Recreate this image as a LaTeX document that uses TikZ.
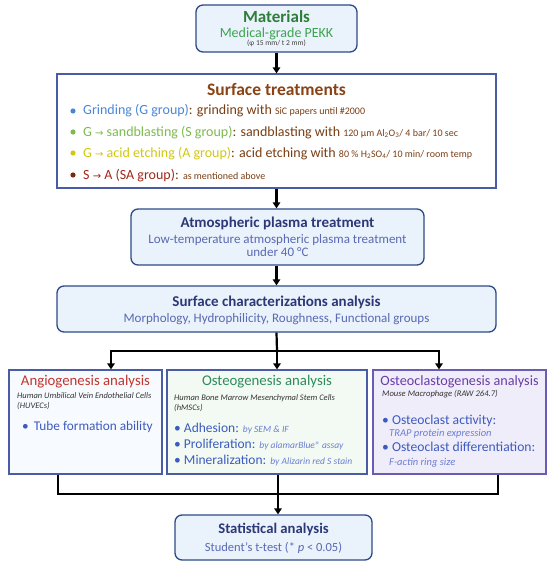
\documentclass[tikz,border=0pt]{standalone}
\usepackage{fontspec}
\setmainfont{Carlito}
\newfontfamily\symfont{DejaVu Sans}
\usepackage{xcolor}
\usepackage{tikz}
\usetikzlibrary{arrows.meta}

\definecolor{BoxBlue}{HTML}{2E4A86}
\definecolor{BoxFill}{HTML}{EAF2FB}
\definecolor{LineBlue}{HTML}{4B5CA6}
\definecolor{MatGreen}{HTML}{2F7D3B}
\definecolor{MatGreenL}{HTML}{3BA54F}
\definecolor{TextBrown}{HTML}{7A3E14}
\definecolor{TitleBrown}{HTML}{8A4315}
\definecolor{GrindBlue}{HTML}{4A86D8}
\definecolor{SandGreen}{HTML}{7DBB4E}
\definecolor{AcidYellow}{HTML}{D2C80E}
\definecolor{SARed}{HTML}{A0281C}
\definecolor{SADot}{HTML}{7A2A10}
\definecolor{NavyTitle}{HTML}{2C3878}
\definecolor{SubBlue}{HTML}{5A69B3}
\definecolor{AngioRed}{HTML}{C0362C}
\definecolor{AngioFill}{HTML}{F7FAFF}
\definecolor{TubeBlue}{HTML}{3D5BBE}
\definecolor{OsteoGreen}{HTML}{2E8C5A}
\definecolor{OsteoFill}{HTML}{F2FAF3}
\definecolor{ItalBlue}{HTML}{6B7ED0}
\definecolor{ClastPurple}{HTML}{6A3CA8}
\definecolor{ClastFill}{HTML}{F0EDFB}
\definecolor{ClastLine}{HTML}{6C5BB5}

\newcommand{\fsz}[1]{\fontsize{#1}{#1}\selectfont}
\newcommand{\toarrow}{{\symfont\fontsize{10}{10}\selectfont →}}

\begin{document}
\begin{tikzpicture}[x = 1pt, y = -1pt,
    stagebox/.style = {draw = BoxBlue, line width = 1.3pt, rounded corners = 7pt, fill = BoxFill},
    squarebox/.style = {draw = LineBlue, line width = 1.3pt},
    flow/.style = {line width = 2.2pt, -{Triangle[length = 6pt, width = 7.5pt]}},
    link/.style = {line width = 2.2pt},
    txt/.style = {inner sep = 0pt, anchor = base west},
    ctxt/.style = {inner sep = 0pt, anchor = base}]
    \useasboundingbox (0, 0) rectangle (550, 569);
    \fill [white] (0, 0) rectangle (550, 569);

    % boxes
    \node [stagebox, minimum width = 161pt, minimum height = 47pt] (mat) at (276.5, 28.5) {};
    \node [squarebox, fill = white, minimum width = 439pt, minimum height = 114pt] (surf) at (276.5, 131) {};
    \node [stagebox, minimum width = 293pt, minimum height = 56pt] (atm) at (277.5, 237) {};
    \node [stagebox, minimum width = 439pt, minimum height = 46pt] (char) at (276.5, 309) {};
    \node [squarebox, fill = AngioFill, minimum width = 153pt, minimum height = 104pt] (angio) at (85.5, 422) {};
    \node [squarebox, fill = OsteoFill, minimum width = 200pt, minimum height = 104pt] (osteo) at (267, 422) {};
    \node [squarebox, draw = ClastLine, fill = ClastFill, minimum width = 173pt, minimum height = 104pt] (clast) at (459.5, 422) {};
    \node [stagebox, minimum width = 197pt, minimum height = 45pt] (stat) at (273.5, 537.5) {};

    % materials
    \node [ctxt, MatGreen] (matT) at (276.5, 23) {\fsz{17}\bfseries Materials};
    \node [ctxt, MatGreenL] (matS) at (276.5, 37.5) {\fsz{14}Medical-grade PEKK};
    \node [ctxt, black!75] (matD) at (276.5, 46) {\fsz{7.5}(φ 15 mm/ t 2 mm)};

    % surface treatments
    \node [ctxt, TitleBrown] (surfT) at (276.5, 96) {\fsz{17.5}\bfseries Surface treatments};
    \fill [GrindBlue] (73, 111) circle (2.6);
    \fill [SandGreen] (73, 132) circle (2.6);
    \fill [AcidYellow] (73, 153) circle (2.6);
    \fill [SADot] (73, 175) circle (2.6);
    \node [txt] (grind) at (83, 115) {\fsz{14}\color{GrindBlue}Grinding (G group)\color{TextBrown}: grinding with \fsz{10}SiC papers until \#2000};
    \node [txt] (sand) at (83, 136.5) {\fsz{14}\color{SandGreen}G \toarrow{} sandblasting (S group)\color{TextBrown}: sandblasting with \fsz{10}120 μm Al\textsubscript{2}O\textsubscript{3}/ 4 bar/ 10 sec};
    \node [txt] (acid) at (83, 157.5) {\fsz{14}\color{AcidYellow}G \toarrow{} acid etching (A group)\color{TextBrown}: acid etching with \fsz{10}80 \% H\textsubscript{2}SO\textsubscript{4}/ 10 min/ room temp};
    \node [txt] (sa) at (83, 180) {\fsz{14}\color{SARed}S \toarrow{} A (SA group)\color{TextBrown}: \fsz{10}as mentioned above};

    % plasma
    \node [ctxt, NavyTitle] (atmT) at (277.5, 227) {\fsz{15}\bfseries Atmospheric plasma treatment};
    \node [ctxt, SubBlue] (atmS1) at (277.5, 243) {\fsz{13}Low-temperature atmospheric plasma treatment};
    \node [ctxt, SubBlue] (atmS2) at (277.5, 256) {\fsz{13}under 40 °C};

    % characterization
    \node [ctxt, NavyTitle] (charT) at (276.5, 306.5) {\fsz{15}\bfseries Surface characterizations analysis};
    \node [ctxt, SubBlue] (charS) at (276.5, 322.5) {\fsz{13}Morphology, Hydrophilicity, Roughness, Functional groups};

    % angiogenesis
    \node [ctxt, AngioRed] (angT) at (85.5, 385) {\fsz{14.8}Angiogenesis analysis};
    \node [txt, black!80] (angC1) at (17, 398) {\fsz{8.5}\itshape Human Umbilical Vein Endothelial Cells};
    \node [txt, black!80] (angC2) at (17, 408) {\fsz{8.5}\itshape (HUVECs)};
    \node [txt, TubeBlue] (angB) at (22, 430) {\fsz{13.3}•\hspace{5pt}Tube formation ability};

    % osteogenesis
    \node [ctxt, OsteoGreen] (ostT) at (267, 385) {\fsz{14.8}Osteogenesis analysis};
    \node [txt, black!80] (ostC1) at (174, 400) {\fsz{8.5}\itshape Human Bone Marrow Mesenchymal Stem Cells};
    \node [txt, black!80] (ostC2) at (174, 410) {\fsz{8.5}\itshape (hMSCs)};
    \node [txt, TubeBlue] (ostB1) at (174, 432) {\fsz{13.5}• Adhesion: \fsz{9.5}\itshape\color{ItalBlue}by SEM \& IF};
    \node [txt, TubeBlue] (ostB2) at (174, 448) {\fsz{13.5}• Proliferation: \fsz{9.5}\itshape\color{ItalBlue}by alamarBlue® assay};
    \node [txt, TubeBlue] (ostB3) at (174, 464) {\fsz{13.5}• Mineralization: \fsz{9.5}\itshape\color{ItalBlue}by Alizarin red S stain};

    % osteoclastogenesis
    \node [ctxt, ClastPurple] (clsT) at (459.5, 385) {\fsz{14.2}Osteoclastogenesis analysis};
    \node [txt, black!80] (clsC) at (382, 396) {\fsz{8.6}\itshape Mouse Macrophage (RAW 264.7)};
    \node [txt, TubeBlue] (clsB1) at (382, 424) {\fsz{13.6}• Osteoclast activity:};
    \node [txt, ItalBlue] (clsD1) at (389, 436.5) {\fsz{10.5}\itshape TRAP protein expression};
    \node [txt, TubeBlue] (clsB2) at (382, 451) {\fsz{13.6}• Osteoclast differentiation:};
    \node [txt, ItalBlue] (clsD2) at (389, 465) {\fsz{10.5}\itshape F-actin ring size};

    % statistics
    \node [ctxt, NavyTitle] (statT) at (273.5, 533) {\fsz{14.7}\bfseries Statistical analysis};
    \node [ctxt, SubBlue] (statS) at (273.5, 551.5) {\fsz{12.5}Student's t-test (* \textit{p} < 0.05)};

    % connectors
    \draw [flow] (mat.south) -- (surf.north);
    \draw [flow] (surf.south) -- (atm.north -| surf.south);
    \draw [flow] (atm.south -| surf.south) -- (char.north);
    \coordinate (split) at (277, 351);
    \coordinate (join) at (278, 494);
    \draw [link] (char.south) -- (split);
    \draw [flow] (split) -| ([xshift = 25.5pt] angio.north);
    \draw [flow] (split) -- (split |- osteo.north);
    \draw [flow] (split) -| ([xshift = -20.5pt] clast.north);
    \draw [link] ([xshift = -27.5pt] angio.south) |- (join);
    \draw [link] ([xshift = 38.5pt] clast.south) |- (join);
    \draw [link] (osteo.south -| join) -- (join);
    \draw [flow] (join) -- (join |- stat.north);
\end{tikzpicture}
\end{document}
